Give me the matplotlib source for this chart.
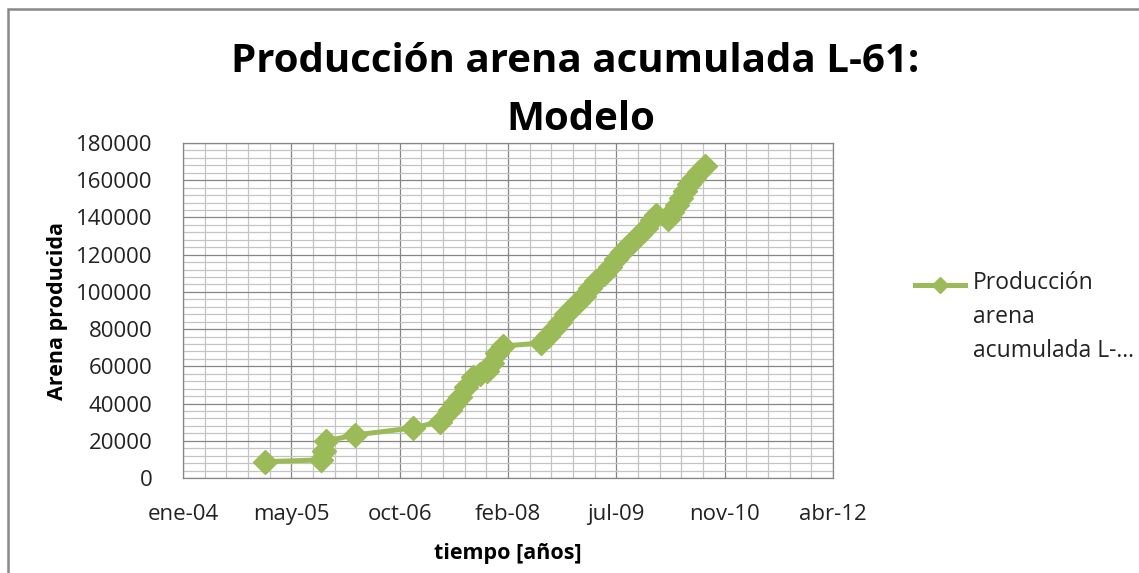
import matplotlib
matplotlib.use('Agg')
import matplotlib.pyplot as plt
import matplotlib.dates as mdates
from matplotlib.ticker import MultipleLocator, FuncFormatter
from matplotlib.lines import Line2D
from matplotlib.patches import Rectangle
import datetime as dt

# datos
fechas = ['2005-01-26', '2005-10-12', '2005-10-26', '2005-11-04', '2006-03-18',
          '2006-12-10', '2007-04-14', '2007-05-30', '2007-06-22', '2007-07-15',
          '2007-08-12', '2007-09-13', '2007-10-16', '2007-11-17', '2007-12-10',
          '2008-01-02', '2008-01-30', '2008-07-23', '2008-08-24', '2008-09-21',
          '2008-10-19', '2008-11-15', '2008-12-13', '2009-01-10', '2009-02-06',
          '2009-03-06', '2009-04-02', '2009-05-09', '2009-06-06', '2009-07-03',
          '2009-07-31', '2009-08-28', '2009-09-24', '2009-10-22', '2009-11-18',
          '2009-12-16', '2010-01-03', '2010-02-28', '2010-03-18', '2010-04-10',
          '2010-04-29', '2010-05-17', '2010-06-05', '2010-06-28', '2010-07-21',
          '2010-08-18']
arena = [8800, 9700, 14500, 19900, 23100, 26900, 30200, 36500, 40300, 43500,
         48900, 54300, 56000, 57500, 61800, 67200, 70900, 72500, 76300, 80000,
         83800, 88100, 91300, 94600, 97800, 102100, 105800, 109600, 113400, 117700,
         121400, 124700, 127900, 131100, 134300, 138600, 141300, 139200, 142800, 146600,
         150200, 154400, 158000, 161200, 164400, 167600]
meses = ['ene', 'feb', 'mar', 'abr', 'may', 'jun', 'jul', 'ago', 'sep', 'oct', 'nov', 'dic']
serie = 'Producción\narena\nacumulada L-...'

verde = '#9BBB59'
W, H = 1139, 573

plt.rcParams['font.family'] = ['Open Sans', 'DejaVu Sans']

fig = plt.figure(figsize=(W / 100, H / 100), dpi=100)
ax = fig.add_axes([183 / W, 1 - 478 / H, 650 / W, 335 / H])

x = [dt.datetime.strptime(f, '%Y-%m-%d') for f in fechas]
ax.plot(x, arena, color=verde, lw=3.6, marker='D', ms=12.5, mec=verde, mfc=verde, zorder=3)

x0 = mdates.date2num(dt.datetime(2004, 1, 14))
ax.set_xlim(x0, x0 + 3000)
ax.set_ylim(0, 180000)
ax.xaxis.set_major_locator(MultipleLocator(500, offset=x0 % 500))
ax.xaxis.set_minor_locator(MultipleLocator(100, offset=x0 % 100))
ax.yaxis.set_major_locator(MultipleLocator(20000))
ax.yaxis.set_minor_locator(MultipleLocator(4000))


def fmt_fecha(v, pos):
    d = mdates.num2date(v)
    return '%s-%02d' % (meses[d.month - 1], d.year % 100)


ax.xaxis.set_major_formatter(FuncFormatter(fmt_fecha))
ax.grid(which='major', color='#868686', lw=0.9)
ax.grid(which='minor', color='#C4C4C4', lw=0.9)
ax.set_axisbelow(True)
ax.tick_params(which='both', length=0)
ax.tick_params(axis='y', pad=22, labelsize=16, colors='#222222')
ax.tick_params(axis='x', pad=19, labelsize=16, colors='#222222')
for s in ax.spines.values():
    s.set_color('#868686')
    s.set_linewidth(0.9)

ax.set_xlabel('tiempo [años]', fontsize=15.5, fontweight='bold', labelpad=13)
ax.set_ylabel('Arena producida', fontsize=15.5, fontweight='bold', labelpad=6)

fig.text(575 / W, 1 - 62 / H, 'Producción arena acumulada L-61:', ha='center', va='center',
         fontsize=29, fontweight='bold')
fig.text(581 / W, 1 - 119 / H, 'Modelo', ha='center', va='center',
         fontsize=29, fontweight='bold')

# leyenda
fig.add_artist(Line2D([915 / W, 965 / W], [1 - 285 / H, 1 - 285 / H], color=verde, lw=3.6))
fig.add_artist(Line2D([940 / W], [1 - 285 / H], color=verde, marker='D', ms=8.5, lw=0))
fig.text(973 / W, 1 - 271 / H, serie, ha='left', va='top', fontsize=16.5,
         color='#222222', linespacing=1.55)

# marco
fig.add_artist(Rectangle((8 / W, -0.1), 1.2, 1 - 9 / H + 0.1, transform=fig.transFigure,
                         fill=False, ec='#888888', lw=1.8))

fig.savefig('out.png', dpi=100)
